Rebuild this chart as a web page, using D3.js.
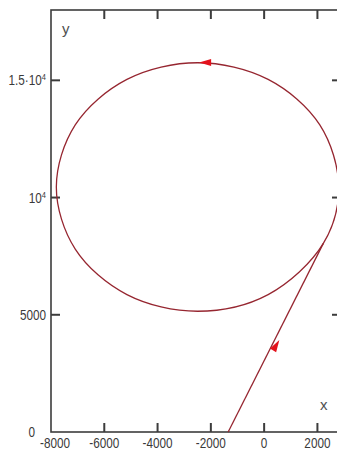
<!DOCTYPE html>
<html>
<head>
<meta charset="utf-8">
<script src="https://cdn.jsdelivr.net/npm/d3@7"></script>
</head>
<body style="margin:0">
<div id="chart"></div>
<script>
// trajectory: straight entry, then one loop
const lineX = [-1350, 2222];
const lineY = [0, 8044];
const loopX = [2222, 2800, 2090, 150, -2500, -5150, -7090, -7800, -7090, -5150, -2500, 150];
const loopY = [8044, 10450, 13100, 15040, 15750, 15040, 13100, 10450, 7800, 5860, 5150, 5860];

// arrow heads: tip and tail points
const arrowTipX = [-2440, 571];
const arrowTipY = [15760, 3920];
const arrowTailX = [-1900, 290];
const arrowTailY = [15760, 3400];

const xTicks = [-8000, -6000, -4000, -2000, 0, 2000];
const yTicks = [0, 5000, 10000, 15000];
const yLabels = ["0", "5000", "10^4", "1.5·10^4"];

const W = 337, H = 452;
const xMin = -8000, xMax = 2885, yMin = 0, yMax = 18000;

const x = d3.scaleLinear().domain([xMin, xMax]).range([51, 341]);
const y = d3.scaleLinear().domain([yMin, yMax]).range([432, 10]);

const svg = d3.select("#chart").append("svg").attr("width", W).attr("height", H);

const frameColor = "#3c3c3c";
const curveColor = "#962630";
const arrowColor = "#e3121c";
const textColor = "#3a3a3a";
const font = "Liberation Sans, Arial, sans-serif";
const tickLen = 9;
const squeeze = 0.84;

// frame
svg.append("rect")
  .attr("x", x(xMin)).attr("y", y(yMax))
  .attr("width", x(xMax) - x(xMin)).attr("height", y(yMin) - y(yMax))
  .attr("fill", "none").attr("stroke", frameColor).attr("stroke-width", 1.6);

// inward ticks: bottom and top
svg.selectAll(".tb").data(xTicks.slice(1)).enter().append("line")
  .attr("x1", (d) => x(d)).attr("x2", (d) => x(d))
  .attr("y1", 432).attr("y2", 432 - tickLen)
  .attr("stroke", frameColor).attr("stroke-width", 2);
svg.selectAll(".tt").data(xTicks.slice(1)).enter().append("line")
  .attr("x1", (d) => x(d)).attr("x2", (d) => x(d))
  .attr("y1", 10).attr("y2", 10 + tickLen)
  .attr("stroke", frameColor).attr("stroke-width", 2);
// left and right
svg.selectAll(".tl").data(yTicks.slice(1)).enter().append("line")
  .attr("y1", (d) => y(d)).attr("y2", (d) => y(d))
  .attr("x1", 51).attr("x2", 51 + tickLen)
  .attr("stroke", frameColor).attr("stroke-width", 2);
svg.selectAll(".tr").data(yTicks.slice(1)).enter().append("line")
  .attr("y1", (d) => y(d)).attr("y2", (d) => y(d))
  .attr("x1", 341).attr("x2", 341 - tickLen)
  .attr("stroke", frameColor).attr("stroke-width", 2);

// tick labels, narrow face
svg.selectAll(".xl")
  .data(xTicks)
  .enter()
  .append("text")
  .attr("font-family", font).attr("font-size", 14).attr("fill", textColor)
  .attr("text-anchor", "middle")
  .attr("transform", (d) => `translate(${x(d) + (d === xMin ? 4 : 0)},${y(yMin) + 16}) scale(${squeeze},1)`)
  .text((d) => String(d));

svg.selectAll(".yl")
  .data(yTicks)
  .enter()
  .append("text")
  .attr("font-family", font).attr("font-size", 14).attr("fill", textColor)
  .attr("text-anchor", "end")
  .attr("transform", (d) => `translate(${x(xMin) - (d === 0 ? 16 : 5)},${y(d) + 5}) scale(${squeeze},1)`)
  .each(function (d, i) {
    const parts = yLabels[i].split("^");
    const t = d3.select(this);
    t.append("tspan").text(parts[0]);
    if (parts[1]) {
      t.append("tspan").attr("dy", "-0.55em").attr("font-size", "9px").text(parts[1]);
    }
  });

svg.append("text").attr("font-family", font).attr("font-size", 15).attr("fill", "#505050")
  .attr("x", 62).attr("y", 34).text("y");
svg.append("text").attr("font-family", font).attr("font-size", 15).attr("fill", "#505050")
  .attr("x", 320).attr("y", 410).text("x");

// trajectory
const line = d3.line().x((d) => x(d[0])).y((d) => y(d[1]));
svg.append("path")
  .datum(lineX.map((v, i) => [v, lineY[i]]))
  .attr("d", line)
  .attr("fill", "none")
  .attr("stroke", curveColor)
  .attr("stroke-width", 1.3);

svg.append("path")
  .datum(loopX.map((v, i) => [v, loopY[i]]))
  .attr("d", line.curve(d3.curveCatmullRomClosed.alpha(0.5)))
  .attr("fill", "none")
  .attr("stroke", curveColor)
  .attr("stroke-width", 1.3);

// arrow heads
svg.selectAll(".arrow")
  .data(arrowTipX.map((v, i) => ({ tx: v, ty: arrowTipY[i], bx: arrowTailX[i], by: arrowTailY[i] })))
  .enter()
  .append("path")
  .attr("fill", arrowColor)
  .attr("d", (d) => {
    const x1 = x(d.tx), y1 = y(d.ty), x0 = x(d.bx), y0 = y(d.by);
    const a = Math.atan2(y1 - y0, x1 - x0);
    const len = 12, hw = 3.6;
    const bx = x1 - len * Math.cos(a), by = y1 - len * Math.sin(a);
    const nx = -Math.sin(a) * hw, ny = Math.cos(a) * hw;
    return `M${x1},${y1}L${bx + nx},${by + ny}L${bx - nx},${by - ny}Z`;
  });
</script>
</body>
</html>
